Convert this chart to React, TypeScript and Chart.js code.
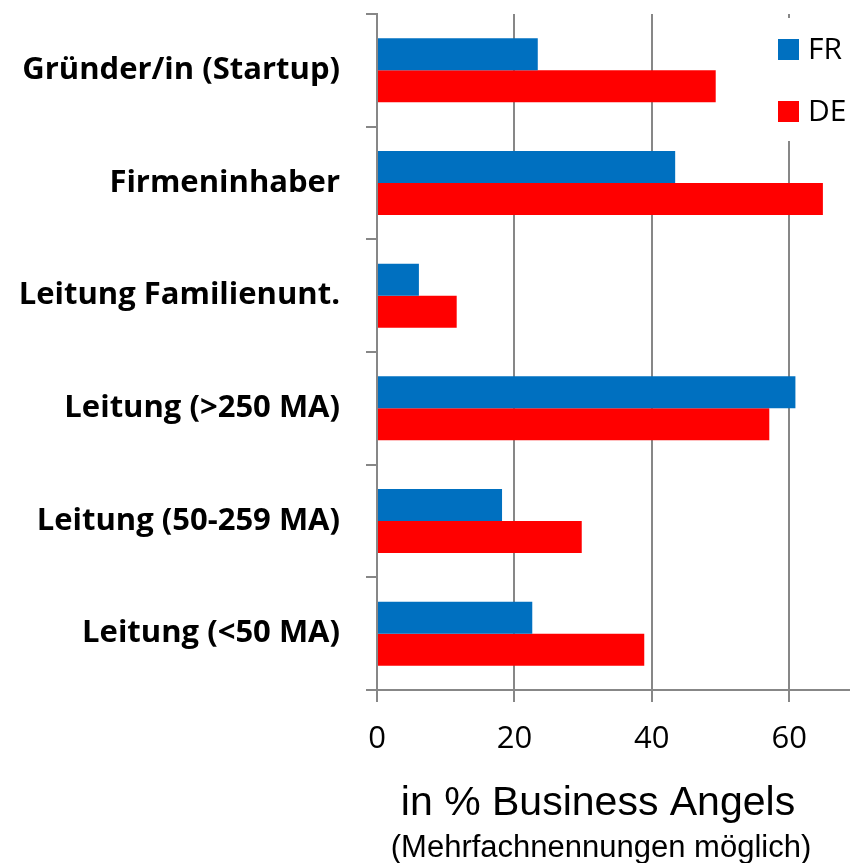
import React, { useEffect, useRef } from "react";
import { Chart, registerables } from "chart.js";

Chart.register(...registerables);

const categories = [
  "Gründer/in (Startup)",
  "Firmeninhaber",
  "Leitung Familienunt.",
  "Leitung (>250 MA)",
  "Leitung (50-259 MA)",
  "Leitung (<50 MA)",
];
const seriesNames = ["FR", "DE"];
const frValues = [23.4, 43.4, 6.1, 60.9, 18.2, 22.6];
const deValues = [49.3, 64.9, 11.6, 57.1, 29.8, 38.9];
const xTicks = [0, 20, 40, 60];
const xMin = 0;
const xMax = 68.7;
const axisTitle = "in % Business Angels";
const axisSubtitle = "(Mehrfachnennungen möglich)";

const BLUE = "#0070C0";
const RED = "#FF0000";
const GRID = "#878787";

export default function App() {
  const canvasRef = useRef<HTMLCanvasElement | null>(null);

  useEffect(() => {
    const canvas = canvasRef.current;
    if (!canvas) return;

    const overlayPlugin = {
      id: "overlay",
      afterDraw(chart: any) {
        const ctx = chart.ctx;
        const area = chart.chartArea;
        ctx.save();
        // legend box (white background covering grid)
        ctx.fillStyle = "#ffffff";
        ctx.fillRect(768, 18, 82, 123);
        const colors = [BLUE, RED];
        const rowsY = [49.5, 111.5];
        ctx.font = "30px 'Open Sans'";
        ctx.textBaseline = "middle";
        ctx.textAlign = "left";
        seriesNames.forEach((name, i) => {
          ctx.fillStyle = colors[i];
          ctx.fillRect(778, rowsY[i] - 10.5, 21, 21);
          ctx.fillStyle = "#000000";
          ctx.fillText(name, 808, rowsY[i] + 1);
        });
        // axis titles
        const cx = area.left + 221;
        ctx.textAlign = "center";
        ctx.textBaseline = "alphabetic";
        ctx.fillStyle = "#000000";
        ctx.font = "41px 'Liberation Sans', Arial, sans-serif";
        ctx.fillText(axisTitle, cx, 815);
        ctx.font = "31px 'Liberation Sans', Arial, sans-serif";
        ctx.fillText(axisSubtitle, cx + 3, 857);
        ctx.restore();
      },
    };

    const chart = new Chart(canvas, {
      type: "bar",
      data: {
        labels: categories,
        datasets: [
          {
            label: seriesNames[0],
            data: frValues,
            backgroundColor: BLUE,
            categoryPercentage: 0.568,
            barPercentage: 1.0,
          },
          {
            label: seriesNames[1],
            data: deValues,
            backgroundColor: RED,
            categoryPercentage: 0.568,
            barPercentage: 1.0,
          },
        ],
      },
      options: {
        indexAxis: "y",
        animation: false,
        responsive: false,
        maintainAspectRatio: false,
        layout: { padding: { top: 14, right: 1, left: 0, bottom: 0 } },
        plugins: {
          legend: { display: false },
          tooltip: { enabled: false },
          title: { display: false },
        },
        scales: {
          x: {
            type: "linear",
            position: "bottom",
            min: xMin,
            max: xMax,
            afterBuildTicks: (scale: any) => {
              scale.ticks = xTicks.map((v) => ({ value: v }));
            },
            afterFit: (scale: any) => {
              scale.height = 173;
            },
            ticks: {
              color: "#000000",
              font: { family: "'Open Sans'", size: 31 },
              padding: 19,
              maxRotation: 0,
              autoSkip: false,
            },
            grid: {
              color: GRID,
              lineWidth: 2,
              drawTicks: true,
              tickLength: 12,
            },
            border: { display: true, color: GRID, width: 2 },
          },
          y: {
            type: "category",
            position: "left",
            afterFit: (scale: any) => {
              scale.width = 377;
              scale.paddingTop = 0;
              scale.paddingBottom = 0;
            },
            ticks: {
              color: "#000000",
              font: { family: "'Open Sans'", size: 31, weight: "bold" },
              padding: 26,
              autoSkip: false,
            },
            grid: {
              offset: true,
              drawOnChartArea: false,
              drawTicks: true,
              tickLength: 11,
              color: GRID,
              lineWidth: 2,
            },
            border: { display: true, color: GRID, width: 2 },
          },
        },
      },
      plugins: [overlayPlugin],
    } as any);

    return () => {
      chart.destroy();
    };
  }, []);

  return (
    <div style={{ position: "absolute", left: 0, top: 0, width: 850, height: 863, background: "#ffffff" }}>
      <canvas ref={canvasRef} width={850} height={863} style={{ display: "block", width: 850, height: 863 }} />
    </div>
  );
}
